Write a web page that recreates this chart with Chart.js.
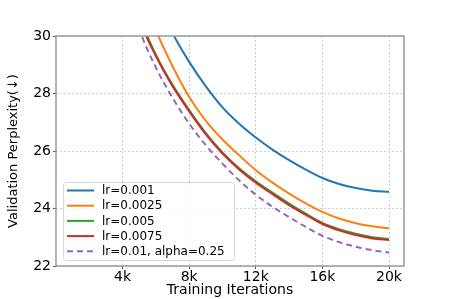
<!DOCTYPE html>
<html>
<head>
<meta charset="utf-8">
<script src="https://cdn.jsdelivr.net/npm/chart.js@4.4.1/dist/chart.umd.min.js"></script>
<style>
  html, body { margin: 0; padding: 0; background: #fff; }
  #wrap { width: 449px; height: 299px; }
</style>
</head>
<body>
<div id="wrap"><canvas id="chart" width="449" height="299"></canvas></div>
<script>
// training iterations (x values)
const iterations = [4000, 5000, 6000, 7000, 8000, 9000, 10000, 11000, 12000, 13000, 14000, 15000, 16000, 17000, 18000, 19000, 20000];

// validation perplexity per run
const lr001 = [35.0, 33.0, 31.4, 30.1, 29.1, 28.25, 27.52, 26.95, 26.47, 26.05, 25.68, 25.35, 25.06, 24.85, 24.71, 24.62, 24.58];
const lr0025 = [33.8, 31.8, 30.2, 28.95, 27.88, 27.05, 26.4, 25.85, 25.33, 24.9, 24.52, 24.18, 23.88, 23.65, 23.49, 23.38, 23.31];
const lr005 = [32.8, 30.7, 29.35, 28.3, 27.42, 26.62, 25.95, 25.4, 24.95, 24.55, 24.17, 23.82, 23.5, 23.28, 23.12, 23.0, 22.94];
const lr0075 = [32.7, 30.6, 29.3, 28.25, 27.38, 26.58, 25.91, 25.36, 24.9, 24.5, 24.12, 23.78, 23.46, 23.24, 23.08, 22.96, 22.9];
const lr01a25 = [32.3, 30.25, 28.9, 27.85, 26.95, 26.2, 25.56, 24.98, 24.48, 24.06, 23.7, 23.36, 23.05, 22.83, 22.67, 22.55, 22.47];

const seriesLabels = ["lr=0.001", "lr=0.0025", "lr=0.005", "lr=0.0075", "lr=0.01, alpha=0.25"];
const seriesValues = [lr001, lr0025, lr005, lr0075, lr01a25];
const seriesColors = ["#1f77b4", "#ff7f0e", "#2ca02c", "#d62728", "#9467bd"];

const xTicks = [4000, 8000, 12000, 16000, 20000];
const yTicks = [22, 24, 26, 28, 30];

const FONT = "'DejaVu Sans', sans-serif";

const datasets = seriesValues.map((vals, i) => ({
  label: seriesLabels[i],
  data: iterations.map((x, j) => ({ x: x, y: vals[j] })),
  borderColor: seriesColors[i],
  backgroundColor: "transparent",
  borderWidth: 2,
  borderDash: i === 4 ? [6, 4] : [],
  pointRadius: 0,
  cubicInterpolationMode: "monotone",
  fill: false,
  order: seriesValues.length - i, // later series on top like matplotlib
}));

// frame around the plot + legend inside the plot area
const framePlugin = {
  id: "frame",
  afterDatasetsDraw(chart) {
    const { ctx, chartArea: a } = chart;
    ctx.save();
    ctx.strokeStyle = "#9a9a9a";
    ctx.lineWidth = 1.5;
    ctx.strokeRect(a.left, a.top, a.right - a.left, a.bottom - a.top);

    // legend box
    const bx = a.left + 7, by = a.top + 146, bw = 171, bh = 78;
    ctx.fillStyle = "rgba(255,255,255,0.85)";
    ctx.strokeStyle = "#d6d6d6";
    ctx.lineWidth = 1;
    ctx.beginPath();
    ctx.roundRect(bx + 0.5, by + 0.5, bw, bh, 3);
    ctx.fill();
    ctx.stroke();

    ctx.font = "12px " + FONT;
    ctx.textBaseline = "middle";
    chart.data.datasets.forEach((ds, i) => {
      const cy = by + 8.5 + i * 15.2;
      ctx.strokeStyle = ds.borderColor;
      ctx.lineWidth = 2;
      ctx.setLineDash(ds.borderDash);
      ctx.beginPath();
      ctx.moveTo(bx + 4, cy);
      ctx.lineTo(bx + 31, cy);
      ctx.stroke();
      ctx.setLineDash([]);
      ctx.fillStyle = "#000";
      ctx.fillText(ds.label, bx + 39, cy + 0.5);
    });
    ctx.restore();
  },
};

new Chart(document.getElementById("chart"), {
  type: "line",
  data: { datasets: datasets },
  options: {
    responsive: false,
    animation: false,
    events: [],
    layout: { padding: { top: 36, right: 45, left: 0, bottom: 0 } },
    plugins: { legend: { display: false }, tooltip: { enabled: false } },
    scales: {
      x: {
        type: "linear",
        min: 0,
        max: 20900,
        afterBuildTicks: (scale) => { scale.ticks = xTicks.map((v) => ({ value: v })); },
        afterFit: (scale) => { scale.height = 33; },
        ticks: {
          color: "#000",
          font: { family: FONT, size: 14 },
          padding: 0,
          maxRotation: 0,
          callback: (v) => v / 1000 + "k",
        },
        grid: { color: "#cfcfcf", lineWidth: 1, tickLength: 3, tickColor: "#555" },
        border: { display: false, dash: [2, 2] },
        title: {
          display: true,
          text: "Training Iterations",
          color: "#000",
          font: { family: FONT, size: 14 },
          padding: { top: 0, bottom: 0 },
        },
      },
      y: {
        min: 22,
        max: 30,
        afterBuildTicks: (scale) => { scale.ticks = yTicks.map((v) => ({ value: v })); },
        afterFit: (scale) => { scale.width = 56; },
        ticks: {
          color: "#000",
          font: { family: FONT, size: 14 },
          padding: 2,
        },
        grid: { color: "#cfcfcf", lineWidth: 1, tickLength: 3, tickColor: "#555" },
        border: { display: false, dash: [2, 2] },
        title: {
          display: true,
          text: "Validation Perplexity(\u2193)",
          color: "#000",
          font: { family: FONT, size: 13 },
          padding: { top: 6, bottom: 0 },
        },
      },
    },
  },
  plugins: [framePlugin],
});
</script>
</body>
</html>
